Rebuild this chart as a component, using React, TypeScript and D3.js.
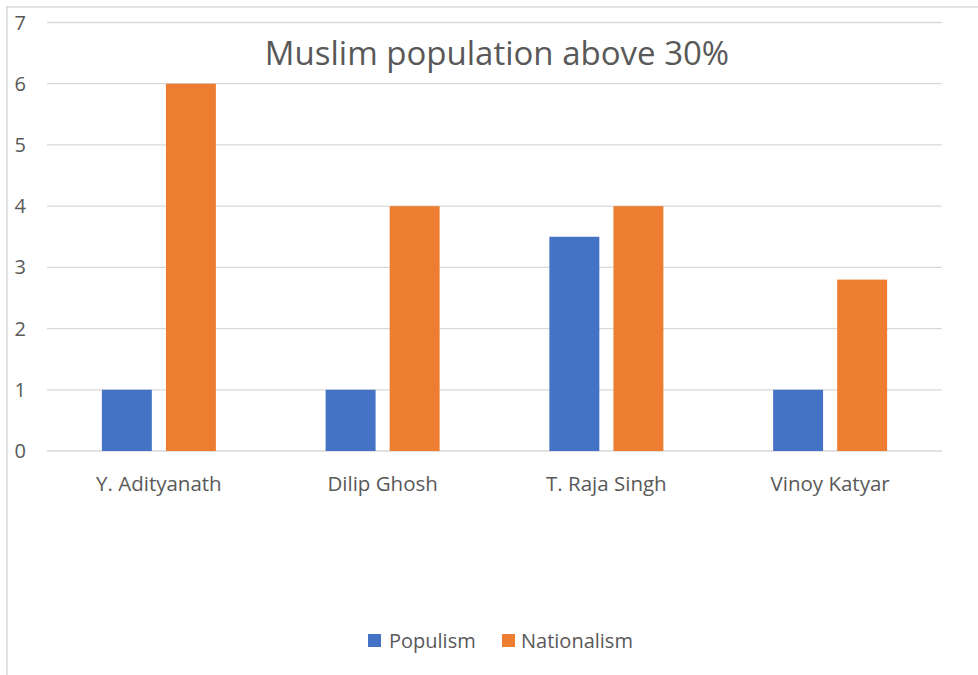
import * as d3 from "d3";

const categories = ["Y. Adityanath", "Dilip Ghosh", "T. Raja Singh", "Vinoy Katyar"];
const populism = [1, 1, 3.5, 1];
const nationalism = [6, 4, 4, 2.8];
const seriesNames = ["Populism", "Nationalism"];
const seriesColors = ["#4472C4", "#ED7D31"];
const yTicks = [0, 1, 2, 3, 4, 5, 6, 7];

const W = 978;
const H = 675;
const FONT = "'Open Sans', 'Noto Sans', sans-serif";

export default function App() {
  const x = d3.scaleBand<string>().domain(categories).range([47, 942]).padding(0);
  const y = d3.scaleLinear().domain([0, 7]).range([451, 22.5]);
  // two bars per group, 50px wide with a 14px gap, centred in the band
  const inner = d3
    .scaleBand<string>()
    .domain(seriesNames)
    .range([x.bandwidth() / 2 - 57, x.bandwidth() / 2 + 57])
    .paddingInner(0.22)
    .paddingOuter(0);

  const values = [populism, nationalism];

  return (
    <div style={{ position: "fixed", left: 0, top: 0 }}>
      <svg width={W} height={H} style={{ display: "block", background: "#fff" }}>
        <line x1={6} x2={W} y1={7} y2={7} stroke="#d9d9d9" strokeWidth={1.5} />
        <line x1={7} x2={7} y1={6} y2={H} stroke="#d9d9d9" strokeWidth={1.5} />

        {yTicks.map((t) => (
          <g key={t}>
            <line x1={47} x2={942} y1={y(t)} y2={y(t)} stroke="#d9d9d9" strokeWidth={1.3} />
            <text
              x={26}
              y={y(t)}
              dy="0.35em"
              textAnchor="end"
              fontFamily={FONT}
              fontSize={20}
              fill="#595959"
            >
              {t}
            </text>
          </g>
        ))}

        <text x={497} y={65} textAnchor="middle" fontFamily={FONT} fontSize={33} fill="#595959">
          Muslim population above 30%
        </text>

        {categories.map((c, i) => (
          <g key={c} transform={`translate(${x(c)},0)`}>
            {seriesNames.map((s, j) => (
              <rect
                key={s}
                x={inner(s)}
                y={y(values[j][i])}
                width={inner.bandwidth()}
                height={y(0) - y(values[j][i])}
                fill={seriesColors[j]}
              />
            ))}
            <text
              x={x.bandwidth() / 2}
              y={491}
              textAnchor="middle"
              fontFamily={FONT}
              fontSize={20.5}
              fill="#595959"
            >
              {c}
            </text>
          </g>
        ))}

        <g>
          <rect x={368} y={634} width={13} height={13} fill={seriesColors[0]} />
          <text x={389} y={648} fontFamily={FONT} fontSize={20} fill="#595959">
            {seriesNames[0]}
          </text>
          <rect x={502} y={634} width={13} height={13} fill={seriesColors[1]} />
          <text x={521} y={648} fontFamily={FONT} fontSize={20} fill="#595959">
            {seriesNames[1]}
          </text>
        </g>
      </svg>
    </div>
  );
}
